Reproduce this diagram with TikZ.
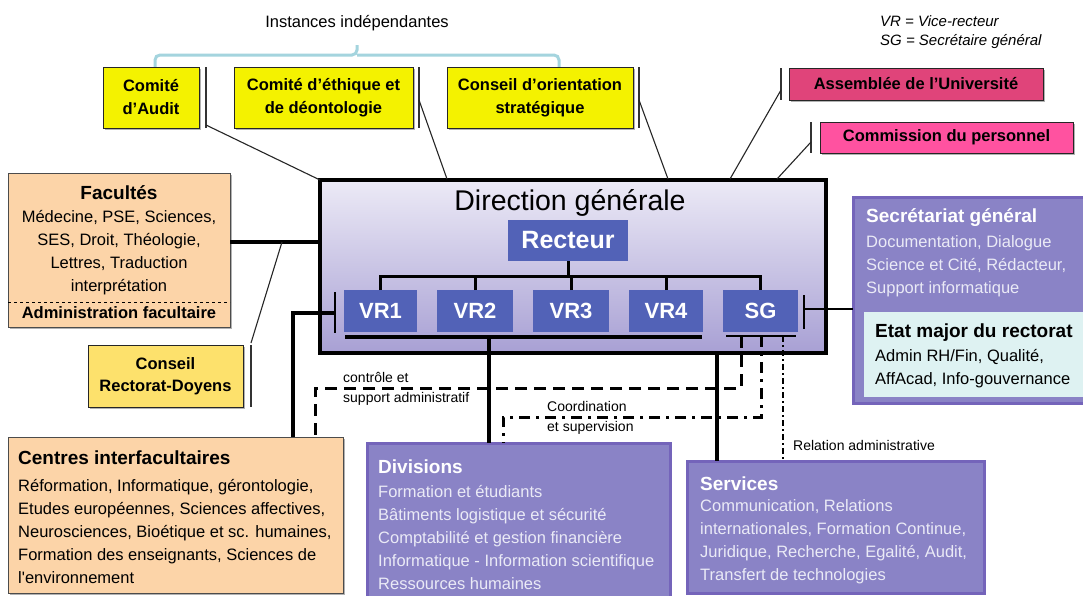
\documentclass[tikz,border=0pt]{standalone}
\usepackage{fontspec}
\setmainfont{Liberation Sans}
\usetikzlibrary{shadows}

\definecolor{yelbox}{RGB}{244,242,0}
\definecolor{goldbox}{RGB}{253,225,108}
\definecolor{peach}{RGB}{252,212,168}
\definecolor{vrblue}{RGB}{82,98,183}
\definecolor{lilac}{RGB}{138,131,198}
\definecolor{lilacedge}{RGB}{116,100,186}
\definecolor{lilactext}{RGB}{234,234,246}
\definecolor{dirtop}{RGB}{236,234,246}
\definecolor{dirbot}{RGB}{168,160,212}
\definecolor{pinkdeep}{RGB}{224,68,122}
\definecolor{pinkbright}{RGB}{255,82,160}
\definecolor{bracecol}{RGB}{164,212,222}
\definecolor{paleteal}{RGB}{222,242,242}

\newcommand\fs[2]{\fontsize{#1}{#2}\selectfont}

\tikzset{
  boxshadow/.style={drop shadow={shadow xshift=2pt,shadow yshift=-2pt,opacity=0.3,fill=black}},
  plainbox/.style={rectangle, inner sep=0pt, outer sep=0pt},
  yelnode/.style={plainbox, draw=black!85, line width=0.9pt, fill=yelbox, boxshadow,
    font=\fs{16.5}{23}\bfseries, align=center},
  pinknode/.style={plainbox, draw=black!85, line width=0.9pt, boxshadow,
    font=\fs{16.5}{20}\bfseries, align=center},
  peachnode/.style={plainbox, draw=black!70, line width=0.9pt, fill=peach, boxshadow},
  goldnode/.style={plainbox, draw=black!85, line width=0.9pt, fill=goldbox, boxshadow,
    font=\fs{16.5}{22}\bfseries, align=center},
  lilacnode/.style={plainbox, draw=lilacedge, line width=3pt, fill=lilac},
  vrnode/.style={plainbox, fill=vrblue, text=white, font=\fs{22}{26}\bfseries},
  headtext/.style={anchor=west, inner sep=0pt, font=\fs{19}{23}\bfseries, align=left},
  bodytext/.style={anchor=west, inner sep=0pt, font=\fs{16.5}{23}, align=left},
  treeline/.style={line width=3pt, black},
  thickline/.style={line width=3.2pt, black},
  thinlink/.style={line width=1.1pt, black!85},
  barline/.style={line width=1.3pt, black!80},
  ctrlline/.style={line width=3pt, dash pattern=on 12pt off 7pt},
  coordline/.style={line width=3pt, dash pattern=on 11pt off 6pt on 3pt off 6pt},
  relline/.style={line width=2.6pt, dash pattern=on 6pt off 3pt on 2pt off 3pt},
  smalllabel/.style={anchor=west, inner sep=0pt, font=\fs{14}{19.5}, align=left},
}

\begin{document}
\begin{tikzpicture}[x=1pt,y=-1pt]
\fill[white] (0,0) rectangle (1083,595);
\path[use as bounding box, clip] (0,0) rectangle (1083,595);

% ---------- independent bodies ----------
\node[font=\fs{16.5}{20}] (instances) at (357,23) {Instances indépendantes};
\draw[line width=3pt, bracecol, rounded corners=5pt] (155,68) |- (357,55) -- (357,45);
\draw[line width=3pt, bracecol, rounded corners=5pt] (357,55) -| (559,68);

\node[yelnode, minimum width=96pt, minimum height=61pt] (audit) at (151,97.5) {Comité\\d’Audit};
\node[yelnode, minimum width=179pt, minimum height=61pt] (ethique) at (323.5,97.5) {Comité d’éthique et\\de déontologie};
\node[yelnode, minimum width=186pt, minimum height=61pt] (orient) at (540,97.5) {Conseil d’orientation\\stratégique};

\node[font=\fs{15}{19}\itshape, align=left, anchor=west, inner sep=0pt] (legend) at (880,32.5) {VR = Vice-recteur\\SG = Secrétaire général};

\node[pinknode, fill=pinkdeep, minimum width=254pt, minimum height=32pt] (assemblee) at (916,84) {Assemblée de l’Université};
\node[pinknode, fill=pinkbright, minimum width=253pt, minimum height=31pt] (commission) at (946.5,137.5) {Commission du personnel};

% ---------- general direction ----------
\node[plainbox, draw=black, line width=4pt, top color=dirtop, bottom color=dirbot, boxshadow,
      minimum width=506pt, minimum height=173pt] (direction) at (573,266.5) {};
\node[font=\fs{28.5}{30}] (dirtitle) at (570,203) {Direction générale};
\node[vrnode, font=\fs{25}{28}\bfseries, minimum width=120pt, minimum height=41pt] (recteur) at (568,240.5) {Recteur};

\node[vrnode, minimum width=73pt, minimum height=42pt] (vr1) at (380.5,311) {VR1};
\node[vrnode, minimum width=76pt, minimum height=42pt] (vr2) at (475,311) {VR2};
\node[vrnode, minimum width=76pt, minimum height=42pt] (vr3) at (571,311) {VR3};
\node[vrnode, minimum width=74pt, minimum height=42pt] (vr4) at (666,311) {VR4};
\node[vrnode, minimum width=75pt, minimum height=42pt] (sg) at (760.5,311) {SG};

\coordinate (busy) at (0,276);
\draw[treeline] (recteur.south) -- (recteur.south |- busy);
\draw[treeline] (vr1.north) |- (sg.north |- busy) -- (sg.north);
\foreach \n in {vr2,vr3,vr4} \draw[treeline] (\n.north) -- (\n.north |- busy);

\coordinate (vrbusL) at (345,337);
\coordinate (vrbusR) at (702,337);
\draw[thickline] (vrbusL) -- (vrbusR);
\coordinate (sgbusL) at (726,336);
\coordinate (sgbusR) at (796,336);
\draw[line width=2.4pt] (sgbusL) -- (sgbusR);
\coordinate (sgd1) at (741,336);
\coordinate (sgd2) at (761,336);
\coordinate (sgd3) at (783,336);

% ---------- faculties ----------
\node[peachnode, minimum width=222pt, minimum height=154pt] (facultes) at (119,250) {};
\node[font=\fs{19}{23}\bfseries] (factitle) at (119,193) {Facultés};
\node[font=\fs{16.5}{23}, align=center] (faclist) at (119,252.5) {Médecine, PSE, Sciences,\\SES, Droit, Théologie,\\Lettres, Traduction\\interprétation};
\coordinate (facsep) at (0,302);
\draw[dashed, line width=0.9pt] (facultes.west |- facsep) -- (facultes.east |- facsep);
\node[font=\fs{16.5}{20}\bfseries] (facadmin) at (119,312.5) {Administration facultaire};

\node[goldnode, minimum width=155pt, minimum height=62pt] (crd) at (165.5,376) {Conseil\\Rectorat-Doyens};

\node[peachnode, minimum width=335pt, minimum height=156pt] (centres) at (175.5,515) {};
\node[headtext] (centrestitle) at (18,458) {Centres interfacultaires};
\node[bodytext] (centreslist) at (18,531) {Réformation, Informatique, gérontologie,\\Etudes européennes, Sciences affectives,\\Neurosciences, Bioétique et sc. humaines,\\Formation des enseignants, Sciences de\\l\textquotesingle environnement};

% ---------- secretariat ----------
\node[lilacnode, minimum width=240pt, minimum height=206pt] (secretariat) at (973,300) {};
\node[plainbox, fill=paleteal, minimum width=226pt, minimum height=85pt] (etatmajor) at (977,354.5) {};
\node[headtext, text=white] (sectitle) at (866,218) {Secrétariat général};
\node[bodytext, text=lilactext] (seclist) at (866,266.5) {Documentation, Dialogue\\Science et Cité, Rédacteur,\\Support informatique};
\node[headtext] (emtitle) at (875,333) {Etat major du rectorat};
\node[bodytext] (emlist) at (875,369) {Admin RH/Fin, Qualité,\\AffAcad, Info-gouvernance};

% ---------- divisions and services ----------
\node[lilacnode, minimum width=303pt, minimum height=165pt] (divisions) at (518.5,525.5) {};
\node[headtext, text=white] (divtitle) at (378,467) {Divisions};
\node[bodytext, text=lilactext] (divlist) at (378,537.5) {Formation et étudiants\\Bâtiments logistique et sécurité\\Comptabilité et gestion financière\\Informatique - Information scientifique\\Ressources humaines};

\node[lilacnode, minimum width=297pt, minimum height=132pt] (services) at (835.5,527) {};
\node[headtext, text=white] (servtitle) at (700,484) {Services};
\node[bodytext, text=lilactext] (servlist) at (700,542) {Communication, Relations\\internationales, Formation Continue,\\Juridique, Recherche, Egalité, Audit,\\Transfert de technologies};

% ---------- links to the independent bodies ----------
\draw[barline] (206,67) -- (206,128);
\draw[barline] (419,67) -- (419,128);
\draw[barline] (639,67) -- (639,128);
\draw[barline] (781,68) -- (781,100);
\draw[barline] (811,122) -- (811,153);
\coordinate (auditpt) at (206,125);
\coordinate (ethiquept) at (419,100);
\coordinate (orientpt) at (639,100);
\coordinate (assempt) at (781,90);
\coordinate (commpt) at (811,142);
\coordinate (dirB) at (447,179);
\coordinate (dirC) at (668,179);
\coordinate (dirD) at (730,179);
\coordinate (dirE) at (777,179);
\draw[thinlink] (auditpt) -- (direction.north west);
\draw[thinlink] (ethiquept) -- (dirB);
\draw[thinlink] (orientpt) -- (dirC);
\draw[thinlink] (assempt) -- (dirD);
\draw[thinlink] (commpt) -- (dirE);

% ---------- faculties and council links ----------
\coordinate (yfac) at (0,242);
\draw[thickline] (facultes.east |- yfac) -- (direction.west |- yfac);
\draw[barline] (251,345) -- (251,407);
\coordinate (crdtop) at (251,343);
\coordinate (crdjoin) at (282,242);
\draw[thinlink] (crdtop) -- (crdjoin);

% ---------- VR1 to interfaculty centres ----------
\draw[line width=2.5pt] (335,292) -- (335,333);
\coordinate (vr1link) at (335,313);
\coordinate (centresleg) at (293,313);
\draw[thickline] (vr1link) -- (centresleg) -- (centresleg |- centres.north);

% ---------- SG to secretariat ----------
\draw[line width=2pt] (804,295) -- (804,329);
\coordinate (sglink) at (804,309);
\draw[line width=1.6pt] (sglink) -- (sglink -| secretariat.west);

% ---------- divisions and services links ----------
\coordinate (divlink) at (489,337);
\draw[thickline] (divlink) -- (divlink |- divisions.north);
\coordinate (servlink) at (717,355);
\draw[thickline] (servlink) -- (servlink |- services.north);

\coordinate (ctrlturn) at (315,388);
\draw[ctrlline] (sgd1) |- (ctrlturn) -- (ctrlturn |- centres.north);
\coordinate (coordturn) at (503,417);
\draw[coordline] (sgd2) |- (coordturn) -- (coordturn |- divisions.north);
\draw[relline] (sgd3) -- (sgd3 |- services.north);

\node[smalllabel] (ctrllbl) at (343,389) {contrôle et\\support administratif};
\node[smalllabel] (coordlbl) at (547,418) {Coordination\\et supervision};
\node[smalllabel] (rellbl) at (793,445) {Relation administrative};

\end{tikzpicture}
\end{document}
